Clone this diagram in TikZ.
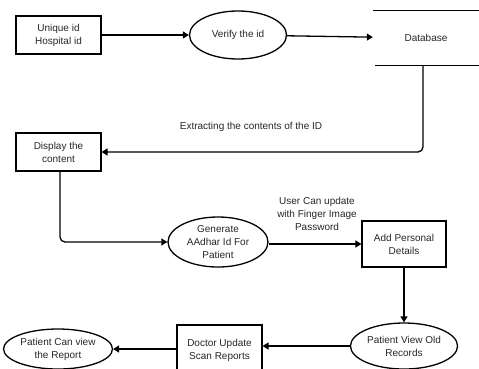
\documentclass[tikz,border=0pt]{standalone}
\usepackage{fontspec}
\setmainfont{Liberation Sans}
\usetikzlibrary{shapes.geometric,arrows.meta}
\begin{document}
\begin{tikzpicture}[x=1bp,y=-1bp,
  every node/.style={font=\fontsize{10bp}{13bp}\selectfont, align=center, inner sep=1bp, text=black!85},
  procbox/.style={draw, line width=1.1bp, rectangle, minimum width=85bp, minimum height=38bp},
  procoval/.style={draw, line width=1.3bp, ellipse},
  flow/.style={line width=1.3bp, -{Triangle[length=6bp,width=7bp]}},
  dbline/.style={line width=1.3bp}]
\useasboundingbox (0,0) rectangle (479,368);

% top row
\node[procbox] (uid) at (58.5,35) {Unique id\\Hospital id};
\node[procoval, minimum width=97bp, minimum height=48bp] (verify) at (238,35) {Verify the id};
\node[minimum width=106bp, minimum height=54bp] (db) at (426,38) {Database};
\draw[dbline] (db.north west) -- (db.north east);
\draw[dbline] ([xshift=2bp]db.south west) -- (db.south east);

\draw[flow] (uid) -- (verify);
\draw[flow] (verify) -- (db);

% middle row
\node[procbox] (disp) at (58.5,152) {Display the\\content};
\draw[flow, rounded corners=5bp] ([xshift=-3bp]db.south) |- (disp.east);
\node (extract) at (251,127) {Extracting the contents of the ID};

\node[procoval, minimum width=100bp, minimum height=50bp] (gen) at (218,242) {Generate\\AAdhar Id For\\Patient};
\node[procbox, minimum width=84bp, minimum height=46bp] (add) at (404,244) {Add Personal\\Details};
\draw[flow, rounded corners=5bp] ([xshift=1.5bp]disp.south) |- (gen.west);
\draw[flow] (gen.east |- add.west) -- (add.west);
\node (update) at (317,214) {User Can update\\with Finger Image\\Password};

% bottom row
\node[procoval, minimum width=86bp, minimum height=46bp] (view) at (404,346) {Patient View Old\\Records};
\node[procbox, minimum width=85bp, minimum height=50bp] (doc) at (219.5,350) {Doctor Update\\Scan Reports};
\node[procoval, minimum width=98bp, minimum height=40bp] (report) at (58,349) {Patient Can view\\the Report};

\draw[flow] (add) -- (view);
\draw[flow] (view.west) -- (view.west -| doc.east);
\draw[flow] (doc.west |- report.east) -- (report.east);
\end{tikzpicture}
\end{document}
